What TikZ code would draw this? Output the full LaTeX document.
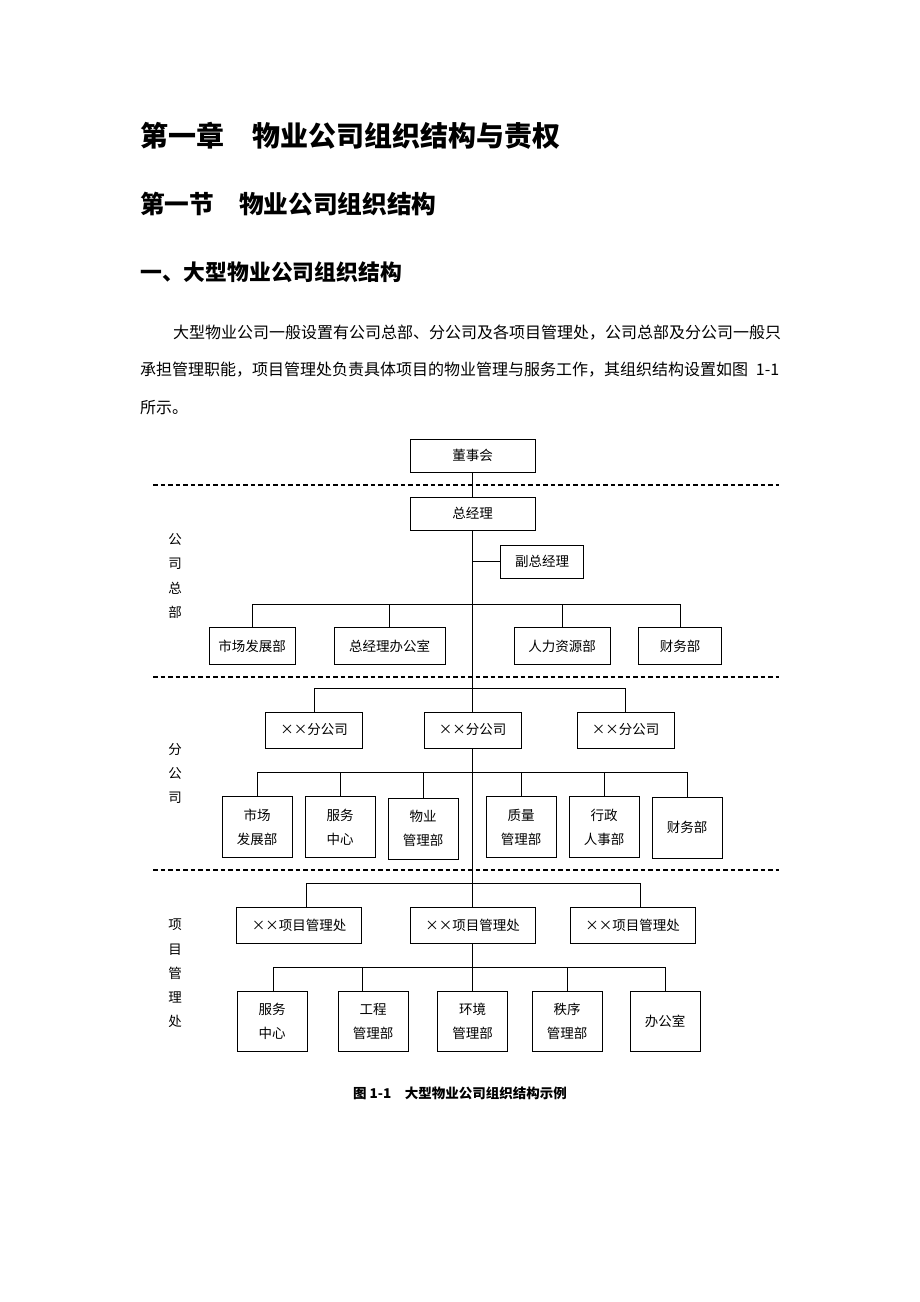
\documentclass[tikz,border=0pt]{standalone}
\usepackage{fontspec}
\setmainfont{Noto Sans CJK SC}
\XeTeXlinebreaklocale "zh"
\XeTeXlinebreakskip=0pt plus 2pt
\begin{document}
\begin{tikzpicture}[x=1pt,y=-1pt,
  box/.style={draw,line width=1pt,inner sep=0pt,align=center,font=\fontsize{13.5}{24}\selectfont},
  link/.style={line width=1pt},
  sepline/.style={line width=1.2pt,dash pattern=on 4.5pt off 3pt},
  side/.style={inner sep=0pt,align=center,font=\fontsize{13.5}{24.3}\selectfont},
  txt/.style={inner sep=0pt,anchor=west}]
\useasboundingbox[fill=white] (0,0) rectangle (920,1302);

% headings and paragraph
\node[txt,font=\fontsize{28}{28}\selectfont\bfseries] (h1) at (140,136) {第一章　物业公司组织结构与责权};
\node[txt,font=\fontsize{24.7}{25}\selectfont\bfseries] (h2) at (140,204) {第一节　物业公司组织结构};
\node[txt,font=\fontsize{21.8}{22}\selectfont\bfseries] (h3) at (140,272) {一、大型物业公司组织结构};
\node[txt,font=\fontsize{16}{16}\selectfont] (p1) at (173,333) {\hbox to 606pt{大型物业公司一般设置有公司总部、分公司及各项目管理处，公司总部及分公司一般只}};
\node[txt,font=\fontsize{16}{16}\selectfont] (p2) at (140,370) {\hbox to 639pt{承担管理职能，项目管理处负责具体项目的物业管理与服务工作，其组织结构设置如图 1-1}};
\node[txt,font=\fontsize{16}{16}\selectfont] (p3) at (140,408) {所示。};

% separators
\coordinate (s1L) at (153,485); \coordinate (s1R) at (779,485);
\coordinate (s2L) at (153,677); \coordinate (s2R) at (779,677);
\coordinate (s3L) at (153,870); \coordinate (s3R) at (779,870);
\draw[sepline] (s1L) -- (s1R);
\draw[sepline] (s2L) -- (s2R);
\draw[sepline] (s3L) -- (s3R);

% side labels
\node[side] (lb1) at (175,576) {公\\司\\总\\部};
\node[side] (lb2) at (175,773.5) {分\\公\\司};
\node[side] (lb3) at (175,973.5) {项\\目\\管\\理\\处};

% company HQ
\node[box,minimum width=125,minimum height=33] (dsh) at (472.5,455.5) {董事会};
\node[box,minimum width=125,minimum height=33] (zjl) at (472.5,513.5) {总经理};
\node[box,minimum width=83,minimum height=33] (fz) at (542,561.5) {副总经理};
\node[box,minimum width=86,minimum height=37] (d1) at (252,646) {市场发展部};
\node[box,minimum width=111,minimum height=37] (d2) at (389.5,646) {总经理办公室};
\node[box,minimum width=96,minimum height=37] (d3) at (562,646) {人力资源部};
\node[box,minimum width=83,minimum height=37] (d4) at (680,646) {财务部};

% branches
\node[box,minimum width=97,minimum height=36] (f1) at (314,730) {××分公司};
\node[box,minimum width=97,minimum height=36] (f2) at (472.5,730) {××分公司};
\node[box,minimum width=97,minimum height=36] (f3) at (625.5,730) {××分公司};
\node[box,minimum width=70,minimum height=61] (g1) at (257,827) {市场\\发展部};
\node[box,minimum width=70,minimum height=61] (g2) at (340,827) {服务\\中心};
\node[box,minimum width=70,minimum height=61] (g3) at (423,828.5) {物业\\管理部};
\node[box,minimum width=70,minimum height=61] (g4) at (521,827) {质量\\管理部};
\node[box,minimum width=70,minimum height=61] (g5) at (604,827) {行政\\人事部};
\node[box,minimum width=70,minimum height=61] (g6) at (687,827.5) {财务部};

% project offices
\node[box,minimum width=125,minimum height=36] (x1) at (299,925) {××项目管理处};
\node[box,minimum width=125,minimum height=36] (x2) at (472.5,925) {××项目管理处};
\node[box,minimum width=125,minimum height=36] (x3) at (632.5,925) {××项目管理处};
\node[box,minimum width=70,minimum height=60] (e1) at (272,1021) {服务\\中心};
\node[box,minimum width=70,minimum height=60] (e2) at (373,1021) {工程\\管理部};
\node[box,minimum width=70,minimum height=60] (e3) at (472.5,1021) {环境\\管理部};
\node[box,minimum width=70,minimum height=60] (e4) at (567,1021) {秩序\\管理部};
\node[box,minimum width=70,minimum height=60] (e5) at (665,1021) {办公室};

% caption
\node[inner sep=0pt,font=\fontsize{13.5}{13.5}\selectfont\bfseries] (cap) at (460,1093) {图 1-1　大型物业公司组织结构示例};

% connectors
\draw[link] (dsh.south) -- (zjl.north);
\draw[link] (zjl.south) -- (f2.north);
\draw[link] (f2.south) -- (x2.north);
\draw[link] (x2.south) -- (e3.north);
\coordinate (fzj) at (472.5,561.5);
\draw[link] (fzj) -- (fz.west);

\coordinate (b1) at (472.5,604);
\draw[link] (d1.north) |- (d4.north |- b1) -- (d4.north);
\draw[link] (d2.north) -- (d2.north |- b1);
\draw[link] (d3.north) -- (d3.north |- b1);

\coordinate (b2) at (472.5,688);
\draw[link] (f1.north) |- (f3.north |- b2) -- (f3.north);

\coordinate (b3) at (472.5,772);
\draw[link] (g1.north) |- (g6.north |- b3) -- (g6.north);
\foreach \n in {g2,g3,g4,g5} \draw[link] (\n.north) -- (\n.north |- b3);

\coordinate (b4L) at (306,883);
\coordinate (b4R) at (640,883);
\draw[link] (b4L |- x1.north) -- (b4L) -- (b4R) -- (b4R |- x3.north);

\coordinate (c1) at (273,967);
\coordinate (c2) at (362,967);
\coordinate (c4) at (567,967);
\coordinate (c5) at (665,967);
\draw[link] (c1 |- e1.north) -- (c1) -- (c5) -- (c5 |- e5.north);
\draw[link] (c2) -- (c2 |- e2.north);
\draw[link] (c4) -- (c4 |- e4.north);
\end{tikzpicture}
\end{document}
